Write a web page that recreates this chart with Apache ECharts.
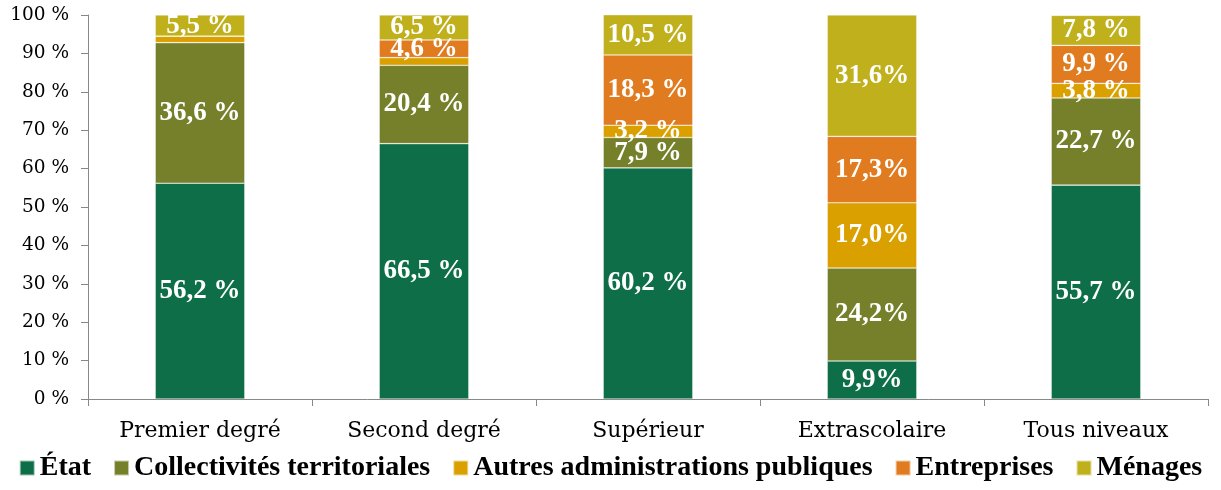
<!DOCTYPE html>
<html><head><meta charset="utf-8">
<script src="https://cdn.jsdelivr.net/npm/echarts@6/dist/echarts.min.js"></script>
<style>html,body{margin:0;padding:0;background:#fff}#c{width:1221px;height:490px}</style>
</head><body><div id="c"></div>
<script>
const categories = ['Premier degré', 'Second degré', 'Supérieur', 'Extrascolaire', 'Tous niveaux'];
const etat = [56.2, 66.5, 60.2, 9.9, 55.7];
const collectivites = [36.6, 20.4, 7.9, 24.2, 22.7];
const autres = [1.7, 2.0, 3.2, 17.0, 3.8];
const entreprises = [0, 4.6, 18.3, 17.3, 9.9];
const menages = [5.5, 6.5, 10.5, 31.6, 7.8];
const yTicks = [0, 10, 20, 30, 40, 50, 60, 70, 80, 90, 100];

const serif = '"Liberation Serif", "DejaVu Serif", serif';
const wideSerif = '"DejaVu Serif", "Liberation Serif", serif';
function fmt(p) {
  if (p.value < 3) return '';
  const s = p.value.toFixed(1).replace('.', ',');
  return p.dataIndex === 3 ? s + '%' : s + ' %';
}
function mk(name, data, color) {
  return {
    name, type: 'bar', stack: 'total', data, barWidth: '40%',
    itemStyle: { color, borderColor: 'rgba(255,255,255,0.6)', borderWidth: 0.6 },
    label: { show: true, position: 'inside', formatter: fmt, color: '#fff',
      fontFamily: serif, fontWeight: 'bold', fontSize: 27 }
  };
}
const chart = echarts.init(document.getElementById('c'));
chart.setOption({
  animation: false,
  grid: { left: 88, right: 13, top: 15, bottom: 91 },
  legend: {
    bottom: 3, left: 'center', itemWidth: 15, itemHeight: 15, itemGap: 22,
    icon: 'rect',
    textStyle: { fontFamily: serif, fontWeight: 'bold', fontSize: 28, color: '#000' }
  },
  xAxis: {
    type: 'category', data: categories,
    axisLine: { lineStyle: { color: '#888' } },
    axisTick: { show: true, length: 7, lineStyle: { color: '#888' } },
    axisLabel: { fontFamily: wideSerif, fontSize: 22, color: '#000', margin: 21 }
  },
  yAxis: {
    type: 'value', min: 0, max: 100, interval: 10,
    axisLine: { show: true, lineStyle: { color: '#888' } },
    axisTick: { show: true, length: 7, lineStyle: { color: '#888' } },
    splitLine: { show: false },
    axisLabel: { fontFamily: wideSerif, fontSize: 18.5, color: '#000', margin: 19,
      formatter: v => yTicks.includes(v) ? v + ' %' : '' }
  },
  series: [
    mk('État', etat, '#0D6E47'),
    mk('Collectivités territoriales', collectivites, '#76802A'),
    mk('Autres administrations publiques', autres, '#DAA000'),
    mk('Entreprises', entreprises, '#E07B1F'),
    mk('Ménages', menages, '#BFB01C')
  ]
});
</script></body></html>
